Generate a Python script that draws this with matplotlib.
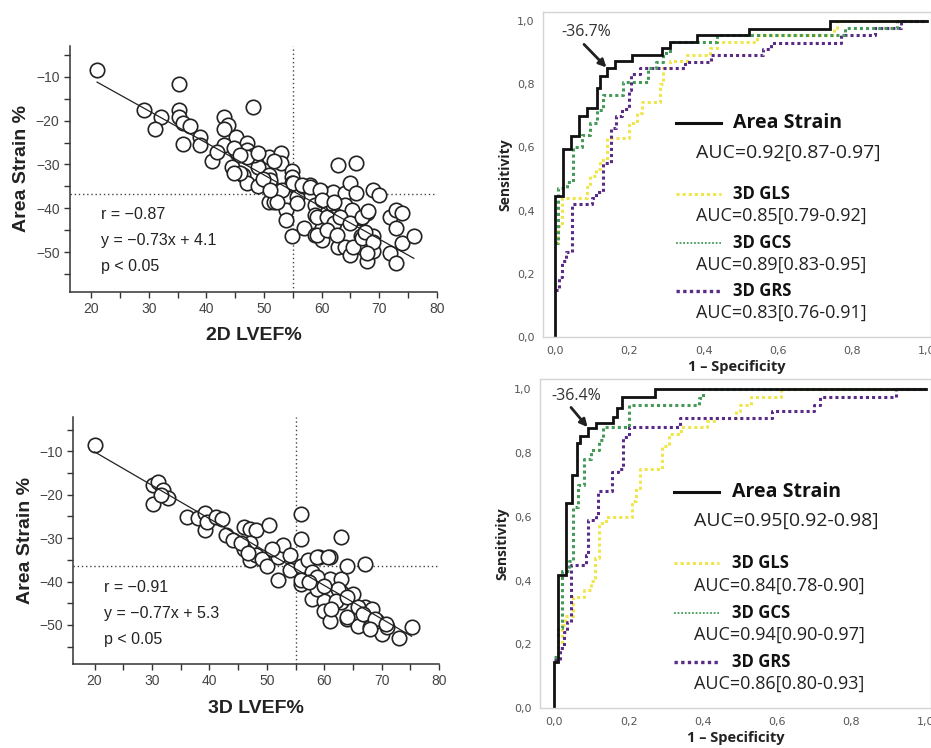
import numpy as np
import matplotlib
matplotlib.use('Agg')
from matplotlib import pyplot as plt
from matplotlib.ticker import MultipleLocator, FuncFormatter

# scatter data: LVEF (%) vs area strain (%)
lvef_2d = [21.0, 35.2, 48.1, 29.1, 32.1, 31.0, 35.2, 35.2, 35.9, 37.2, 35.9, 38.9, 38.9, 43.1, 43.8,
           43.1, 45.1, 43.1, 47.0, 47.0, 40.9, 44.4, 46.3, 47.0, 49.0, 49.0, 48.2, 50.8, 52.9, 52.9,
           51.7, 50.8, 50.8, 50.8, 51.7, 52.9, 53.8, 53.8, 53.8, 54.8, 54.8, 54.8, 54.8, 55.8, 55.8,
           56.7, 57.9, 56.9, 58.9, 58.9, 58.9, 60.0, 60.0, 60.0, 62.0, 62.0, 62.0, 62.0, 62.9, 62.9,
           64.1, 64.1, 64.1, 64.9, 64.9, 64.9, 65.9, 65.9, 66.9, 66.9, 66.9, 67.8, 67.8, 69.0, 69.0,
           69.0, 69.9, 71.9, 71.9, 72.9, 72.9, 72.9, 73.9, 73.9, 76.0, 45.3, 47.0, 49.0, 45.9, 51.1,
           53.1, 55.1, 56.6, 58.0, 59.7, 52.2, 60.0, 62.1, 65.2, 59.2, 60.9, 62.1, 63.2, 65.0, 67.0,
           68.1, 59.2, 60.9, 62.6, 65.5, 67.0, 67.6, 69.0, 67.8, 41.8, 44.7, 45.9, 44.7, 49.9, 51.1]
strain_2d = [-8.5, -11.7, -17.0, -17.6, -19.1, -22.0, -17.6, -19.1, -20.6, -21.2, -25.3, -23.8, -25.6, -19.1, -21.0,
             -22.0, -23.8, -25.6, -25.0, -26.7, -29.1, -30.5, -32.4, -34.3, -34.8, -30.5, -27.8, -28.2, -27.3, -29.7,
             -29.2, -32.4, -34.3, -38.5, -38.5, -36.2, -37.3, -40.4, -42.6, -31.6, -32.8, -34.3, -46.3, -37.3, -38.8,
             -35.0, -34.7, -44.5, -39.2, -41.5, -46.1, -36.2, -47.2, -44.5, -36.2, -39.2, -41.9, -43.8, -30.1, -48.7,
             -36.6, -39.2, -48.7, -34.3, -42.6, -50.6, -29.7, -36.6, -42.3, -46.4, -48.7, -41.1, -52.1, -35.8, -46.4,
             -49.8, -36.9, -41.9, -50.2, -40.4, -44.5, -52.5, -41.1, -47.9, -46.4, -27.4, -28.2, -27.4, -32.0, -33.5,
             -35.8, -34.3, -34.7, -35.1, -35.8, -38.5, -38.1, -38.5, -40.4, -41.9, -41.9, -43.4, -41.9, -43.4, -41.9,
             -40.7, -46.1, -44.9, -46.1, -48.7, -46.8, -45.3, -47.6, -50.2, -27.1, -26.3, -27.8, -32.0, -33.2, -35.8]

lvef_3d = [20.0, 30.2, 31.1, 31.9, 30.2, 32.8, 31.5, 36.1, 38.1, 39.2, 39.2, 39.5, 41.1, 42.2, 42.9,
           44.1, 46.1, 47.0, 48.2, 50.3, 47.0, 47.0, 46.1, 48.2, 49.1, 50.0, 51.1, 52.0, 52.0, 52.9,
           54.1, 54.1, 56.0, 56.0, 56.0, 56.0, 57.1, 57.1, 57.9, 57.9, 59.1, 59.1, 60.0, 60.0, 61.0,
           61.0, 61.0, 62.9, 62.9, 62.9, 62.9, 64.0, 64.0, 65.0, 65.9, 67.1, 67.1, 68.0, 69.1, 70.1,
           70.9, 73.0, 75.2, 45.5, 46.7, 50.9, 58.8, 60.6, 57.9, 55.9, 58.8, 62.4, 58.8, 60.0, 62.1,
           63.9, 61.2, 63.9, 65.9, 68.3, 66.8, 68.9, 68.0, 70.7, 57.4]
strain_3d = [-8.5, -17.7, -17.0, -18.9, -22.1, -20.8, -20.0, -25.1, -25.4, -24.3, -28.0, -26.2, -25.2, -25.6, -29.3,
             -30.5, -27.4, -27.8, -28.1, -27.0, -31.2, -35.1, -32.4, -33.9, -34.7, -36.3, -32.8, -39.7, -34.3, -31.6,
             -33.9, -37.4, -24.4, -30.1, -36.3, -40.5, -35.1, -39.7, -38.2, -44.0, -34.3, -41.7, -44.4, -46.7, -34.3,
             -39.3, -49.0, -29.7, -39.3, -42.4, -44.7, -36.3, -48.6, -42.8, -50.2, -35.9, -45.9, -50.5, -49.0, -52.1,
             -50.5, -52.9, -50.4, -31.2, -33.5, -32.4, -34.3, -34.3, -37.8, -39.7, -39.0, -41.6, -41.6, -41.0, -44.4,
             -43.6, -46.3, -48.2, -45.9, -46.3, -47.4, -48.6, -50.9, -49.8, -40.1]

# regression and cut-off values printed in the figure
fit_2d = (-0.73, 4.1)
fit_3d = (-0.77, 5.3)
lvef_cut = 55
strain_cut_2d = -36.7
strain_cut_3d = -36.4

# ROC step curves (1 - specificity, sensitivity), top panel (2D) and bottom panel (3D)
as_fpr_top = [0, 0, 0.021, 0.043, 0.065, 0.085, 0.114, 0.121, 0.141, 0.161, 0.206, 0.287, 0.309, 0.383, 0.523, 0.740, 1.0]
as_tpr_top = [0, 0.446, 0.595, 0.636, 0.699, 0.723, 0.786, 0.825, 0.849, 0.871, 0.892, 0.913, 0.934, 0.956, 0.975, 1.0, 1.0]
gls_fpr_top = [0, 0.009, 0.02, 0.085, 0.094, 0.11, 0.121, 0.139, 0.2, 0.22, 0.233, 0.283, 0.291, 0.309, 0.354, 0.417, 0.435, 0.543, 0.75, 0.76, 1.0]
gls_tpr_top = [0.30, 0.35, 0.44, 0.476, 0.51, 0.53, 0.56, 0.63, 0.676, 0.707, 0.744, 0.80, 0.85, 0.871, 0.892, 0.913, 0.934, 0.956, 0.978, 1.0, 1.0]
gcs_fpr_top = [0, 0.009, 0.031, 0.049, 0.072, 0.094, 0.114, 0.130, 0.184, 0.251, 0.273, 0.291, 0.309, 0.435, 0.78, 0.92, 1.0]
gcs_tpr_top = [0.297, 0.47, 0.49, 0.60, 0.64, 0.676, 0.718, 0.765, 0.807, 0.85, 0.87, 0.897, 0.934, 0.956, 0.978, 1.0, 1.0]
grs_fpr_top = [0, 0.01, 0.02, 0.03, 0.045, 0.10, 0.11, 0.13, 0.15, 0.165, 0.18, 0.20, 0.205, 0.23, 0.35, 0.42, 0.56, 0.58, 0.77, 0.86, 0.93, 1.0]
grs_tpr_top = [0.15, 0.19, 0.24, 0.27, 0.42, 0.44, 0.46, 0.55, 0.66, 0.70, 0.72, 0.78, 0.83, 0.85, 0.87, 0.89, 0.91, 0.93, 0.956, 0.978, 1.0, 1.0]

as_fpr_bot = [0, 0, 0.011, 0.031, 0.049, 0.060, 0.069, 0.092, 0.112, 0.159, 0.168, 0.181, 0.271, 1.0]
as_tpr_bot = [0, 0.146, 0.418, 0.644, 0.729, 0.83, 0.853, 0.877, 0.894, 0.913, 0.94, 0.976, 1.0, 1.0]
gls_fpr_bot = [0, 0.01, 0.02, 0.03, 0.05, 0.08, 0.10, 0.11, 0.12, 0.14, 0.21, 0.22, 0.23, 0.29, 0.31, 0.34, 0.41, 0.43, 0.49, 0.50, 0.53, 0.61, 1.0]
gls_tpr_bot = [0.15, 0.20, 0.26, 0.29, 0.35, 0.37, 0.40, 0.47, 0.58, 0.60, 0.65, 0.69, 0.75, 0.82, 0.86, 0.88, 0.90, 0.91, 0.93, 0.95, 0.975, 1.0, 1.0]
gcs_fpr_bot = [0, 0.01, 0.02, 0.04, 0.05, 0.065, 0.08, 0.10, 0.12, 0.13, 0.20, 0.39, 0.40, 1.0]
gcs_tpr_bot = [0.16, 0.25, 0.43, 0.46, 0.63, 0.70, 0.78, 0.81, 0.84, 0.88, 0.95, 0.97, 1.0, 1.0]
grs_fpr_bot = [0, 0.015, 0.025, 0.035, 0.045, 0.085, 0.092, 0.112, 0.118, 0.155, 0.172, 0.186, 0.20, 0.338, 0.585, 0.70, 0.715, 0.92, 1.0]
grs_tpr_bot = [0.15, 0.19, 0.24, 0.27, 0.45, 0.48, 0.59, 0.60, 0.68, 0.74, 0.75, 0.85, 0.88, 0.91, 0.93, 0.95, 0.975, 1.0, 1.0]

auc_top = ['AUC=0.92[0.87-0.97]', 'AUC=0.85[0.79-0.92]', 'AUC=0.89[0.83-0.95]', 'AUC=0.83[0.76-0.91]']
auc_bot = ['AUC=0.95[0.92-0.98]', 'AUC=0.84[0.78-0.90]', 'AUC=0.94[0.90-0.97]', 'AUC=0.86[0.80-0.93]']
names = ['Area Strain', '3D GLS', '3D GCS', '3D GRS']
cut_labels = ['-36.7%', '-36.4%']

col_as = '#111111'
col_gls = '#f0e54a'
col_gcs = '#469a58'
col_grs = '#5a2b86'

fig = plt.figure(figsize=(9.31, 7.48), dpi=100)
arial = 'Liberation Sans'
osans = 'Open Sans'


def scatter_panel(rect, x, y, fit, ycut, xlab, stats, ylim):
    ax = fig.add_axes(rect)
    ax.plot(x, y, 'o', ms=10.4, mfc='white', mec='#222222', mew=1.2, zorder=2)
    xs = np.array([min(x), max(x)])
    ax.plot(xs, fit[0] * xs + fit[1], color='#222222', lw=0.9, zorder=3)
    ax.axvline(lvef_cut, color='#444444', lw=1.0, ls=(0, (1, 2)), zorder=1)
    ax.axhline(ycut, color='#444444', lw=1.0, ls=(0, (1, 2)), zorder=1)
    ax.set_xlim(16.3, 80)
    ax.set_ylim(*ylim)
    for s in ['top', 'right']:
        ax.spines[s].set_visible(False)
    for s in ['left', 'bottom']:
        ax.spines[s].set_linewidth(1.1)
        ax.spines[s].set_color('#333333')
    ax.xaxis.set_major_locator(MultipleLocator(10))
    ax.xaxis.set_minor_locator(MultipleLocator(5))
    ax.yaxis.set_major_locator(MultipleLocator(10))
    ax.yaxis.set_minor_locator(MultipleLocator(5))
    ax.set_xticks(np.arange(20, 81, 10))
    ax.tick_params(which='both', direction='out', length=4, width=1.0, color='#333333',
                   labelsize=10, labelcolor='#444444')
    for lab in ax.get_xticklabels() + ax.get_yticklabels():
        lab.set_family(arial)
    ax.set_xlabel(xlab, fontsize=14, fontweight='bold', family=arial, color='#222222', labelpad=8)
    ax.set_ylabel('Area Strain %', fontsize=14, fontweight='bold', family=arial, color='#222222', labelpad=4)
    for i, s in enumerate(stats):
        ax.text(21.6, -41.3 - 6.0 * i, s, fontsize=11.5, family=arial, color='#222222', va='center')
    return ax


scatter_panel([0.0752, 0.61, 0.394, 0.3285], lvef_2d, strain_2d, fit_2d, strain_cut_2d, '2D LVEF%',
              ['r = \u22120.87', 'y = \u22120.73x + 4.1', 'p < 0.05'], (-59, -3))
scatter_panel([0.0787, 0.1123, 0.393, 0.3306], lvef_3d, strain_3d, fit_3d, strain_cut_3d, '3D LVEF%',
              ['r = \u22120.91', 'y = \u22120.77x + 5.3', 'p < 0.05'], (-59, -2))


def roc_panel(rect, xlim, ylim, curves, aucs, cut_label, cut_idx, text_xy, tail_xy):
    ax = fig.add_axes(rect)
    (afx, afy), (lfx, lfy), (cfx, cfy), (rfx, rfy) = curves
    ax.plot(lfx, lfy, drawstyle='steps-post', color=col_gls, lw=2.2, ls=(0, (1, 1)))
    ax.plot(rfx, rfy, drawstyle='steps-post', color=col_grs, lw=2.2, ls=(0, (1, 1)))
    ax.plot(cfx, cfy, drawstyle='steps-post', color=col_gcs, lw=2.2, ls=(0, (1, 1)))
    ax.plot(afx, afy, drawstyle='steps-post', color=col_as, lw=2.0, solid_joinstyle='miter')
    ax.set_xlim(*xlim)
    ax.set_ylim(*ylim)
    for s in ax.spines.values():
        s.set_color('#d4d4d4')
        s.set_linewidth(1.0)
    ax.set_xticks(np.arange(0, 1.01, 0.2))
    ax.set_yticks(np.arange(0, 1.01, 0.2))
    fmt = FuncFormatter(lambda v, p: ('%.1f' % v).replace('.', ','))
    ax.xaxis.set_major_formatter(fmt)
    ax.yaxis.set_major_formatter(fmt)
    ax.tick_params(length=0, labelsize=8, labelcolor='#555555', pad=6)
    ax.set_xlabel('1 \u2013 Specificity', fontsize=10.5, fontweight='bold', family=osans, color='#222222', labelpad=3)
    ax.set_ylabel('Sensitivity', fontsize=10, fontweight='bold', family=osans, color='#222222', labelpad=3)

    ax.text(text_xy[0], text_xy[1], cut_label, ha='center', va='center', fontsize=11.5,
            family=osans, color='#333333')
    ax.annotate('', xy=(afx[cut_idx], afy[cut_idx]), xytext=tail_xy,
                arrowprops=dict(arrowstyle='-|>', color='#222222', lw=2.0, mutation_scale=11,
                                shrinkA=0, shrinkB=1))

    # legend block drawn in axes fraction
    styles = [dict(color=col_as, lw=2.2, ls='-'),
              dict(color=col_gls, lw=2.2, ls=(0, (1, 1))),
              dict(color=col_gcs, lw=1.3, ls=(0, (1, 1))),
              dict(color=col_grs, lw=2.4, ls=(0, (1, 1)))]
    rows = [(0.657, 0.568), (0.441, 0.372), (0.289, 0.222), (0.141, 0.075)]
    for k in range(4):
        yn, ya = rows[k]
        ax.plot([0.342, 0.458], [yn, yn], transform=ax.transAxes, **styles[k])
        ax.text(0.49, yn, names[k], transform=ax.transAxes, fontsize=14 if k == 0 else 12,
                fontweight='bold', family=osans, color='#111111', va='center')
        ax.text(0.395, ya, aucs[k], transform=ax.transAxes, fontsize=14 if k == 0 else 13,
                family=osans, color='#222222', va='center')
    return ax


roc_panel([0.583, 0.549, 0.417, 0.4353], (-0.033, 1.012), (0, 1.028),
          [(as_fpr_top, as_tpr_top), (gls_fpr_top, gls_tpr_top), (gcs_fpr_top, gcs_tpr_top), (grs_fpr_top, grs_tpr_top)],
          auc_top, cut_labels[0], 8, (0.085, 0.965), (0.078, 0.925))
roc_panel([0.58, 0.0531, 0.42, 0.4402], (-0.0385, 1.014), (0, 1.031),
          [(as_fpr_bot, as_tpr_bot), (gls_fpr_bot, gls_tpr_bot), (gcs_fpr_bot, gcs_tpr_bot), (grs_fpr_bot, grs_tpr_bot)],
          auc_bot, cut_labels[1], 7, (0.058, 0.979), (0.045, 0.942))

fig.savefig('out.png', dpi=100)
